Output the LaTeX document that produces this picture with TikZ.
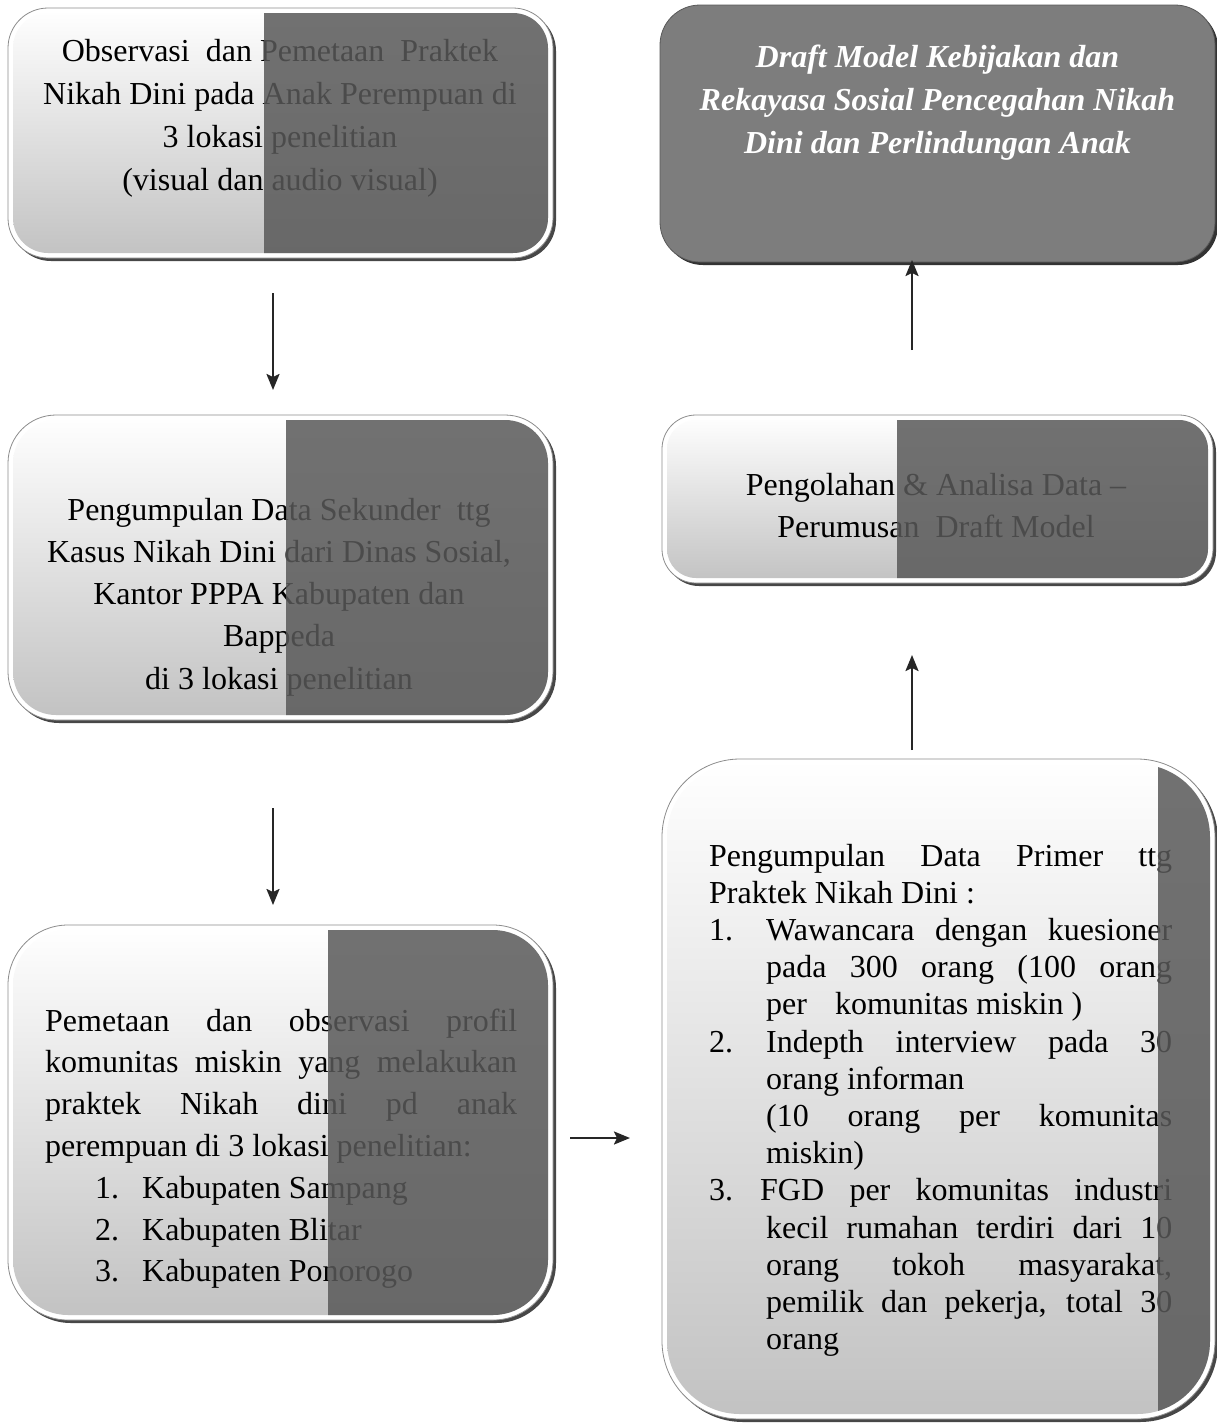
\documentclass[tikz,border=0pt]{standalone}
\usepackage{fontspec}
\setmainfont{Liberation Serif}
\usetikzlibrary{arrows.meta}
\newcommand\darkpart[3]{%
  \begin{scope}
    \clip[rounded corners=#2] ([shift={(5pt,-5pt)}]#1.north west) rectangle ([shift={(-5pt,5pt)}]#1.south east);
    \fill[darkfill] (#3,0) rectangle (1217,1425);
  \end{scope}}
\begin{document}
\begin{tikzpicture}[x=1pt,y=-1pt,
  boxshape/.style 2 args={rectangle, inner sep=0pt, outer sep=0pt, draw=black!45, line width=0.8pt,
    fill=white, rounded corners=#1,
    preaction={fill=black!72, transform canvas={shift={(3pt,-3pt)}}},
    path picture={\shade[top color=white, bottom color=black!24, rounded corners=#2]
      ([shift={(5pt,-5pt)}]path picture bounding box.north west) rectangle
      ([shift={(-5pt,5pt)}]path picture bounding box.south east);}},
  boxplain/.style={rectangle, inner sep=0pt, outer sep=0pt, draw=black!65, line width=0.8pt,
    fill=black!51, rounded corners=40pt,
    preaction={fill=black!80, transform canvas={shift={(3pt,-3pt)}}}},
  darkfill/.style={fill=black!65, opacity=0.85},
  ctext/.style={align=flush center, inner sep=0pt, text width=520pt, anchor=base},
  jtext/.style={align=justify, inner sep=0pt, anchor=base west},
  arr/.style={-{Stealth[length=16pt,width=13pt,inset=3pt]}, line width=2.2pt, draw=black!85}
]
\useasboundingbox (0,0) rectangle (1217,1425);

% boxes
\node[boxshape={40pt}{35pt}, minimum width=545pt, minimum height=250pt] (b1) at (280.5,133) {};
\node[boxplain, minimum width=555pt, minimum height=257pt] (b2) at (937.5,133.5) {};
\node[boxshape={48pt}{43pt}, minimum width=545pt, minimum height=305pt] (b3) at (280.5,567.5) {};
\node[boxshape={34pt}{29pt}, minimum width=551pt, minimum height=168pt] (b4) at (937.5,499) {};
\node[boxshape={60pt}{55pt}, minimum width=545pt, minimum height=395pt] (b5) at (280.5,1122.5) {};
\node[boxshape={78pt}{73pt}, minimum width=553pt, minimum height=660pt] (b6) at (938.5,1089) {};

% texts
\node[ctext, font=\fontsize{32}{43}\selectfont] (t1) at (280,61)
  {Observasi\ \ dan Pemetaan\ \ Praktek\\Nikah Dini pada Anak Perempuan di\\3 lokasi penelitian\\(visual dan audio visual)};
\node[ctext, text=white, font=\fontsize{32}{43}\selectfont\bfseries\itshape] (t2) at (937.5,67)
  {Draft Model Kebijakan dan\\Rekayasa Sosial Pencegahan Nikah\\Dini dan Perlindungan Anak};
\node[ctext, font=\fontsize{32}{42.3}\selectfont] (t3) at (279,520)
  {Pengumpulan Data Sekunder\ \ ttg\\Kasus Nikah Dini dari Dinas Sosial,\\Kantor PPPA Kabupaten dan\\Bappeda\\di 3 lokasi penelitian};
\node[ctext, font=\fontsize{32}{42}\selectfont] (t4) at (936,495)
  {Pengolahan \& Analisa Data --\\Perumusan\ \ Draft Model};
\node[jtext, text width=472pt, font=\fontsize{32}{41.8}\selectfont] (t5) at (45,1031)
  {Pemetaan dan observasi profil\linebreak komunitas miskin yang melakukan\linebreak praktek Nikah dini pd anak\linebreak perempuan di 3 lokasi penelitian:\par
   \hspace*{50pt}\makebox[47pt][l]{1.}Kabupaten Sampang\par
   \hspace*{50pt}\makebox[47pt][l]{2.}Kabupaten Blitar\par
   \hspace*{50pt}\makebox[47pt][l]{3.}Kabupaten Ponorogo\par};
\node[jtext, text width=463pt, font=\fontsize{32}{37.2}\selectfont] (t6) at (709,866)
  {Pengumpulan Data Primer ttg\linebreak Praktek Nikah Dini :\par
   \hangindent=57pt\hangafter=1\makebox[57pt][l]{1.}Wawancara dengan kuesioner\linebreak pada 300 orang (100 orang\linebreak per\hspace{20pt} komunitas miskin )\par
   \hangindent=57pt\hangafter=1\makebox[57pt][l]{2.}Indepth interview pada 30\linebreak orang informan\newline (10 orang per komunitas\linebreak miskin)\par
   \hangindent=57pt\hangafter=1\makebox[51pt][l]{3.}FGD per komunitas industri\linebreak kecil rumahan terdiri dari 10\linebreak orang tokoh masyarakat,\linebreak pemilik dan pekerja, total 30\linebreak orang\par};

% dark overlays
\darkpart{b1}{35pt}{264}
\darkpart{b3}{43pt}{286}
\darkpart{b4}{29pt}{897}
\darkpart{b5}{55pt}{328}
\darkpart{b6}{73pt}{1158}

% arrows
\draw[arr] ([shift={(-7.5pt,-35pt)}]b1.south) -- ([shift={(-7.5pt,25pt)}]b3.north);
\draw[arr] ([shift={(-7.5pt,-88pt)}]b3.south) -- ([shift={(-7.5pt,20pt)}]b5.north);
\draw[arr] ([shift={(17pt,-15.5pt)}]b5.east) -- ([shift={(-32pt,-49pt)}]b6.west);
\draw[arr] ([shift={(-26.5pt,9pt)}]b6.north) -- ([shift={(-25.5pt,-72pt)}]b4.south);
\draw[arr] ([shift={(-25.5pt,65pt)}]b4.north) -- ([shift={(-25.5pt,2pt)}]b2.south);
\end{tikzpicture}
\end{document}
